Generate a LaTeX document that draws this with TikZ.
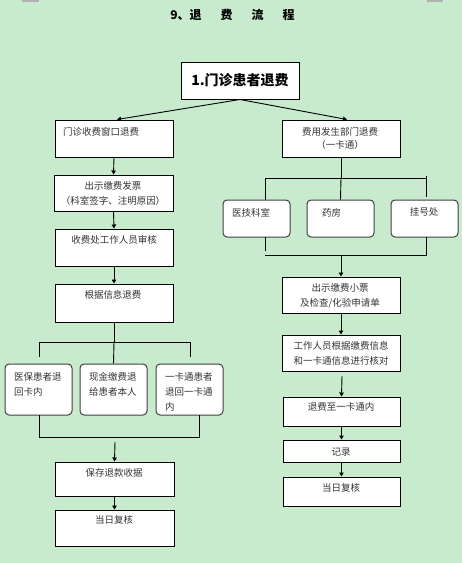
\documentclass[tikz,border=0pt]{standalone}
\usepackage{fontspec}
\newfontfamily\cjk{Noto Sans CJK SC}
\usetikzlibrary{arrows.meta,calc}
\definecolor{bgc}{RGB}{199,235,204}
\begin{document}
\begin{tikzpicture}[x=1pt,y=-1pt,
  box/.style={draw=black, fill=white, line width=1pt, inner sep=0pt},
  rbox/.style={box, draw=black!75, rounded corners=4pt},
  txt/.style={font=\cjk\fontsize{9.5}{15}\selectfont, text=black!80, inner sep=0pt, align=left},
  ctxt/.style={txt, align=center},
  ln/.style={line width=0.9pt},
  arr/.style={ln, -{Triangle[length=4pt,width=4.5pt]}}]
\useasboundingbox (0,0) rectangle (462,563);
\fill[bgc] (0,0) rectangle (462,563);
\fill[black!30] (22,0) rectangle (39,1.5);
\fill[black!30] (427,0) rectangle (443,1.5);

% title
\node[inner sep=0pt, font=\cjk\bfseries\fontsize{12}{14}\selectfont] (title) at (232.5,15)
  {9、退\hspace{19pt}费\hspace{19pt}流\hspace{19pt}程};

% main box
\node[box, minimum width=118pt, minimum height=37pt] (main) at (240,80.5) {};
\node[inner sep=0pt, font=\cjk\bfseries\fontsize{14}{16}\selectfont] (maint) at (240,80.5) {1.门诊患者退费};

% left column
\node[box, minimum width=118pt, minimum height=37pt] (L1) at (114,138.5) {};
\node[txt, anchor=west] (L1t) at (63,132) {门诊收费窗口退费};
\node[box, minimum width=119pt, minimum height=36pt] (L2) at (113.5,193) {};
\node[ctxt] (L2t) at (113,193) {出示缴费发票\\（科室签字、注明原因）};
\node[box, minimum width=118pt, minimum height=37pt] (L3) at (114,247.5) {};
\node[ctxt] (L3t) at (114,240) {收费处工作人员审核};
\node[box, minimum width=118pt, minimum height=38pt] (L4) at (114,303) {};
\node[ctxt] (L4t) at (113,295) {根据信息退费};

\node[rbox, minimum width=67pt, minimum height=51pt] (Ra) at (38.5,389.5) {};
\node[txt, anchor=west] (Rat) at (14,384.5) {医保患者退\\回卡内};
\node[rbox, minimum width=67pt, minimum height=51pt] (Rb) at (113.5,389.5) {};
\node[txt, anchor=west] (Rbt) at (89,384.5) {现金缴费退\\给患者本人};
\node[rbox, minimum width=67pt, minimum height=51pt] (Rc) at (189.5,389.5) {};
\node[txt, anchor=west] (Rct) at (165,391.5) {一卡通患者\\退回一卡通\\内};

\node[box, minimum width=119pt, minimum height=34pt] (L5) at (114.5,479) {};
\node[ctxt] (L5t) at (114,473) {保存退款收据};
\node[box, minimum width=119pt, minimum height=36pt] (L6) at (114.5,528) {};
\node[ctxt] (L6t) at (114,520) {当日复核};

% right column
\node[box, minimum width=118pt, minimum height=37pt] (B1) at (341,138.5) {};
\node[ctxt] (B1t) at (340,138.5) {费用发生部门退费\\[-2pt]（一卡通）};
\node[rbox, minimum width=67pt, minimum height=37pt] (D1) at (256.5,218.5) {};
\node[txt, anchor=west] (D1t) at (232,213) {医技科室};
\node[rbox, minimum width=67pt, minimum height=37pt] (D2) at (340.5,218.5) {};
\node[txt, anchor=west] (D2t) at (322,213) {药房};
\node[rbox, minimum width=67pt, minimum height=37pt] (D3) at (424.5,218.5) {};
\node[ctxt] (D3t) at (424,212) {挂号处};
\node[box, minimum width=118pt, minimum height=36pt] (B2) at (341,295) {};
\node[ctxt] (B2t) at (340,295.5) {出示缴费小票\\及检查/化验申请单};
\node[box, minimum width=118pt, minimum height=36pt] (B3) at (341,353) {};
\node[ctxt] (B3t) at (341,353) {工作人员根据缴费信息\\和一卡通信息进行核对};
\node[box, minimum width=117pt, minimum height=29pt] (B4) at (341.5,411.5) {};
\node[ctxt] (B4t) at (341,407) {退费至一卡通内};
\node[box, minimum width=117pt, minimum height=22pt] (B5) at (341.5,451) {};
\node[ctxt] (B5t) at (341,452) {记录};
\node[box, minimum width=117pt, minimum height=29pt] (B6) at (341.5,491.5) {};
\node[ctxt] (B6t) at (341,488) {当日复核};

% connectors from main
\draw[arr] (main.south) -- ($(L1.north)+(3,0)$);
\draw[arr] (main.south) -- ($(B1.north)+(6,0)$);

% left chain
\draw[arr] (L1.south) -- (L2.north);
\draw[arr] (L2.south) -- (L3.north);
\draw[arr] (L3.south) -- (L4.north);
\coordinate (lj) at (114,342);
\coordinate (lja) at (39,342);
\coordinate (ljc) at (190,342);
\draw[ln] (L4.south) -- (lj);
\draw[ln] (lja) -- (ljc);
\draw[ln] (lja) -- (39,357);
\draw[ln] (ljc) -- (190,357);
\draw[ln] (lj) -- (Rb.north);
\coordinate (lba) at (39,415);
\coordinate (lbc) at (199,415);
\draw[ln] (lba) -- (39,437) -- (199,437) -- (lbc);
\draw[arr] (115,442) -- (L5.north);
\draw[arr] (L5.south) -- (L6.north);

% right chain
\coordinate (rj) at (341,178);
\draw[ln] (B1.south) -- (rj);
\draw[ln] (265,178) -- (426,178);
\draw[ln] (265,178) -- (265,200);
\draw[ln] (rj) -- (D2.north);
\draw[ln] (426,176) -- (426,197);
\coordinate (rba) at (265,237);
\coordinate (rbc) at (426,237);
\draw[ln] (rba) -- (265,251);
\draw[ln] (rbc) -- (426,255) -- (265,255);
\draw[arr] (341,255) -- (B2.north);
\draw[arr] (B2.south) -- (B3.north);
\draw[arr] (342,376) -- (B4.north);
\draw[arr] (B4.south) -- (B5.north);
\draw[arr] (B5.south) -- (B6.north);
\end{tikzpicture}
\end{document}
